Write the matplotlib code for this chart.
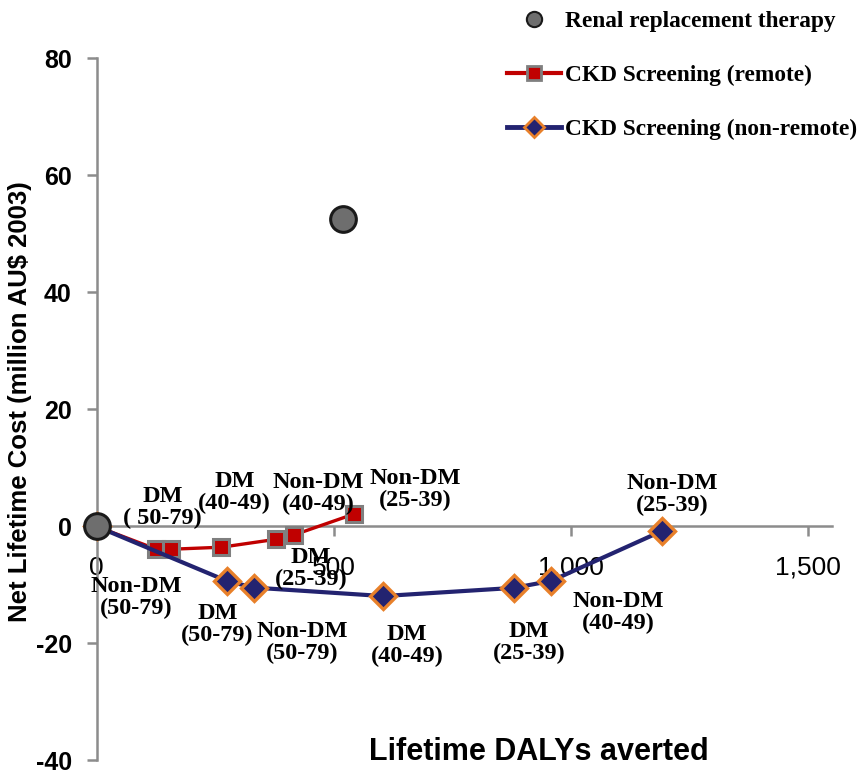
import matplotlib
matplotlib.use("Agg")
import matplotlib.pyplot as plt
from matplotlib.lines import Line2D

# ---- data ----
rrt_x = [0, 520]
rrt_y = [0, 52.6]

remote_x = [0, 126, 156, 263, 378, 416, 542]
remote_y = [0, -3.9, -3.9, -3.55, -2.2, -1.45, 2.1]

nonremote_x = [0, 274, 331, 604, 880, 959, 1193]
nonremote_y = [0, -9.3, -10.45, -11.9, -10.5, -9.3, -0.75]

remote_labels = ["DM\n( 50-79)", "Non-DM\n(50-79)", "DM\n(40-49)", "DM\n(25-39)",
                 "Non-DM\n(40-49)", "Non-DM\n(25-39)"]
nonremote_labels = ["DM\n(50-79)", "Non-DM\n(50-79)", "DM\n(40-49)", "DM\n(25-39)",
                    "Non-DM\n(40-49)", "Non-DM\n(25-39)"]

x_ticks = [0, 500, 1000, 1500]
x_ticklabels = ["0", "500", "1,000", "1,500"]
y_ticks = [-40, -20, 0, 20, 40, 60, 80]
y_ticklabels = ["-40", "-20", "0", "20", "40", "60", "80"]

series_names = ["Renal replacement therapy", "CKD Screening (remote)",
                "CKD Screening (non-remote)"]

# ---- label offsets (pixels) ----
remote_offsets = [(6, 42), (-34, -48), (13, 55), (35, -29), (24, 41), (62, 25)]
nonremote_offsets = [(-9, -44), (49, -55), (24, -49), (15, -55), (67, -32), (10, 36)]

SERIF = "Liberation Serif"
SANS = "Liberation Sans"

fig = plt.figure(figsize=(8.68, 7.79), dpi=100)
ax = fig.add_axes([0.1114, 0.02375, 0.8467, 0.9014])
ax.set_xlim(0, 1550)
ax.set_ylim(-40, 80)

red = "#C00000"
navy = "#232370"
orange = "#E8802A"
gray_edge = "#7F7F7F"
axis_gray = "#8C8C8C"

ax.plot(remote_x, remote_y, color=red, lw=2.4, marker="s", ms=11.5,
        mfc=red, mec=gray_edge, mew=2.2, zorder=3, clip_on=False)
ax.plot(nonremote_x, nonremote_y, color=navy, lw=3.0, marker="D", ms=13,
        mfc=navy, mec=orange, mew=2.4, zorder=3, clip_on=False)
ax.plot(rrt_x, rrt_y, ls="none", marker="o", ms=18.5, mfc="#6E6E6E",
        mec="#1A1A1A", mew=2.2, zorder=4, clip_on=False)

for x, y, t, off in zip(remote_x[1:], remote_y[1:], remote_labels, remote_offsets):
    ax.annotate(t, (x, y), xytext=off, textcoords="offset pixels",
                ha="center", va="center", ma="center", family=SERIF,
                fontweight="bold", fontsize=17.5, zorder=5, linespacing=1.05)
for x, y, t, off in zip(nonremote_x[1:], nonremote_y[1:], nonremote_labels, nonremote_offsets):
    ax.annotate(t, (x, y), xytext=off, textcoords="offset pixels",
                ha="center", va="center", ma="center", family=SERIF,
                fontweight="bold", fontsize=17.5, zorder=5, linespacing=1.05)

# axes styling
for s in ["top", "right"]:
    ax.spines[s].set_visible(False)
ax.spines["bottom"].set_position(("data", 0))
for s in ["left", "bottom"]:
    ax.spines[s].set_color(axis_gray)
    ax.spines[s].set_linewidth(1.8)

ax.set_xticks(x_ticks)
ax.set_xticklabels(x_ticklabels, family=SANS, fontsize=19)
ax.set_yticks(y_ticks)
ax.set_yticklabels(y_ticklabels, family=SANS, fontsize=18, fontweight="bold")
ax.tick_params(axis="x", direction="out", length=7, width=1.8, color=axis_gray, pad=14)
ax.tick_params(axis="y", direction="out", length=7, width=1.8, color=axis_gray, pad=11)

fig.text(20 / 868, 1 - 402 / 779, "Net Lifetime Cost (million AU$ 2003)",
         rotation=90, ha="center", va="center", family=SANS,
         fontweight="bold", fontsize=18.5)
fig.text(539 / 868, 1 - 752 / 779, "Lifetime DALYs averted", ha="center",
         va="center", family=SANS, fontweight="bold", fontsize=22)

handles = [
    Line2D([], [], ls="none", marker="o", ms=11, mfc="#6E6E6E", mec="#1A1A1A", mew=1.5),
    Line2D([], [], color=red, lw=3, marker="s", ms=10, mfc=red, mec=gray_edge, mew=2),
    Line2D([], [], color=navy, lw=3.5, marker="D", ms=10, mfc=navy, mec=orange, mew=2),
]
leg = fig.legend(handles, series_names, loc="upper left",
                 bbox_to_anchor=(507 / 868, 1 - 11 / 779), frameon=False,
                 prop={"family": SERIF, "weight": "bold", "size": 16.8},
                 handlelength=2.3, handletextpad=0.2, labelspacing=1.4,
                 borderpad=0, borderaxespad=0)

fig.savefig("out.png", dpi=100)
